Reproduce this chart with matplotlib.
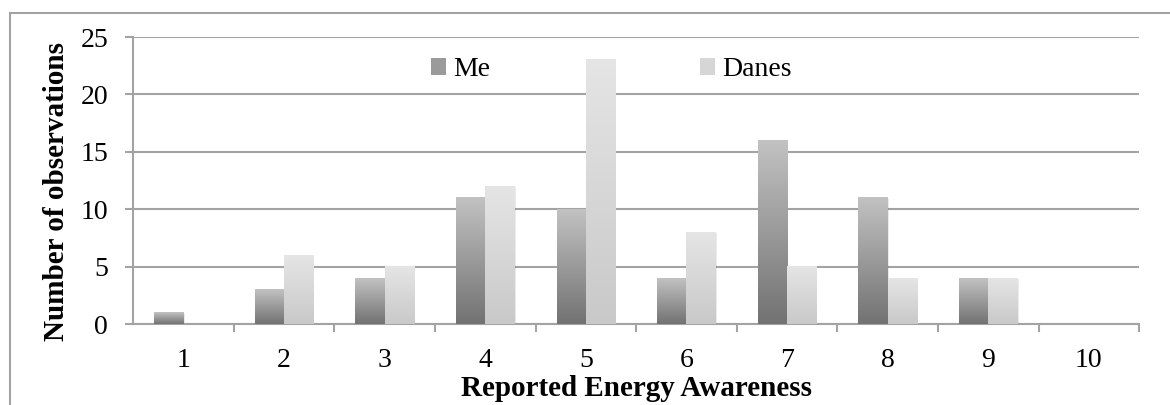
import numpy as np
import matplotlib.pyplot as plt
from matplotlib.patches import Patch, Rectangle
from matplotlib.colors import LinearSegmentedColormap

categories = ['1', '2', '3', '4', '5', '6', '7', '8', '9', '10']
me = [1, 3, 4, 11, 10, 4, 16, 11, 4, 0]
danes = [0, 6, 5, 12, 23, 8, 5, 4, 4, 0]

plt.rcParams['font.family'] = ['Liberation Serif', 'DejaVu Serif']

grey = '#a3a3a3'
me_cmap = LinearSegmentedColormap.from_list('me', ['#727272', '#c2c2c2'])
danes_cmap = LinearSegmentedColormap.from_list('danes', ['#c9c9c9', '#e5e5e5'])

fig = plt.figure(figsize=(11.7, 4.05), dpi=100)
ax = fig.add_axes([0.1137, 0.2, 0.86, 0.7086])

# frame around the whole chart
fig.patches.append(Rectangle((10 / 1170, -0.1), 1.2, 1 - 13 / 405 + 0.1,
                             transform=fig.transFigure, fill=False,
                             edgecolor=grey, linewidth=1.5, clip_on=False))

x = np.arange(1, len(categories) + 1)
w = 0.29
grad = np.linspace(0, 1, 256).reshape(-1, 1)


def gradient_bars(xs, vals, cmap):
    bars = ax.bar(xs, vals, width=w, color='none', edgecolor='none', zorder=3)
    for b in bars:
        h = b.get_height()
        if h <= 0:
            continue
        x0 = b.get_x()
        # soft shadow
        ax.add_patch(Rectangle((x0 + 0.012, -0.15), w, h + 0.05, facecolor='#000000',
                               alpha=0.08, edgecolor='none', zorder=2.5))
        ax.imshow(grad, extent=[x0, x0 + w, 0, h], origin='lower', cmap=cmap,
                  aspect='auto', zorder=3, interpolation='bilinear')
    return bars


gradient_bars(x - w / 2, me, me_cmap)
gradient_bars(x + w / 2, danes, danes_cmap)

ax.set_xlim(0.5, 10.5)
ax.set_ylim(0, 25)
ax.set_yticks(range(0, 26, 5))
ax.set_xticks(x)
ax.set_xticklabels(categories)
ax.set_xticks(np.arange(1.5, 10.6, 1), minor=True)
ax.tick_params(axis='x', which='major', length=0, labelsize=20, pad=17)
ax.tick_params(axis='x', which='minor', length=6, width=1.5, color=grey)
ax.tick_params(axis='y', length=6, width=1.5, color=grey, labelsize=20, pad=12)

ax.grid(axis='y', color=grey, linewidth=1.5, zorder=0)
ax.set_axisbelow(True)
for s in ['top', 'right']:
    ax.spines[s].set_visible(False)
for s in ['left', 'bottom']:
    ax.spines[s].set_color(grey)
    ax.spines[s].set_linewidth(1.5)

ax.set_xlabel('Reported Energy Awareness', fontsize=21, fontweight='bold', labelpad=2)
ax.set_ylabel('Number of observations', fontsize=21, fontweight='bold')
ax.yaxis.set_label_coords(-0.063, 0.46)

handles = [Patch(facecolor='#9a9a9a', edgecolor='none'),
           Patch(facecolor='#d6d6d6', edgecolor='none')]
ax.legend(handles, ['Me', 'Danes'], ncol=2, loc='upper center',
          bbox_to_anchor=(0.475, 1.017), frameon=False, fontsize=20,
          columnspacing=7.55, handlelength=0.55, handleheight=0.55, handletextpad=0.25)

fig.savefig('out.png', dpi=100)
